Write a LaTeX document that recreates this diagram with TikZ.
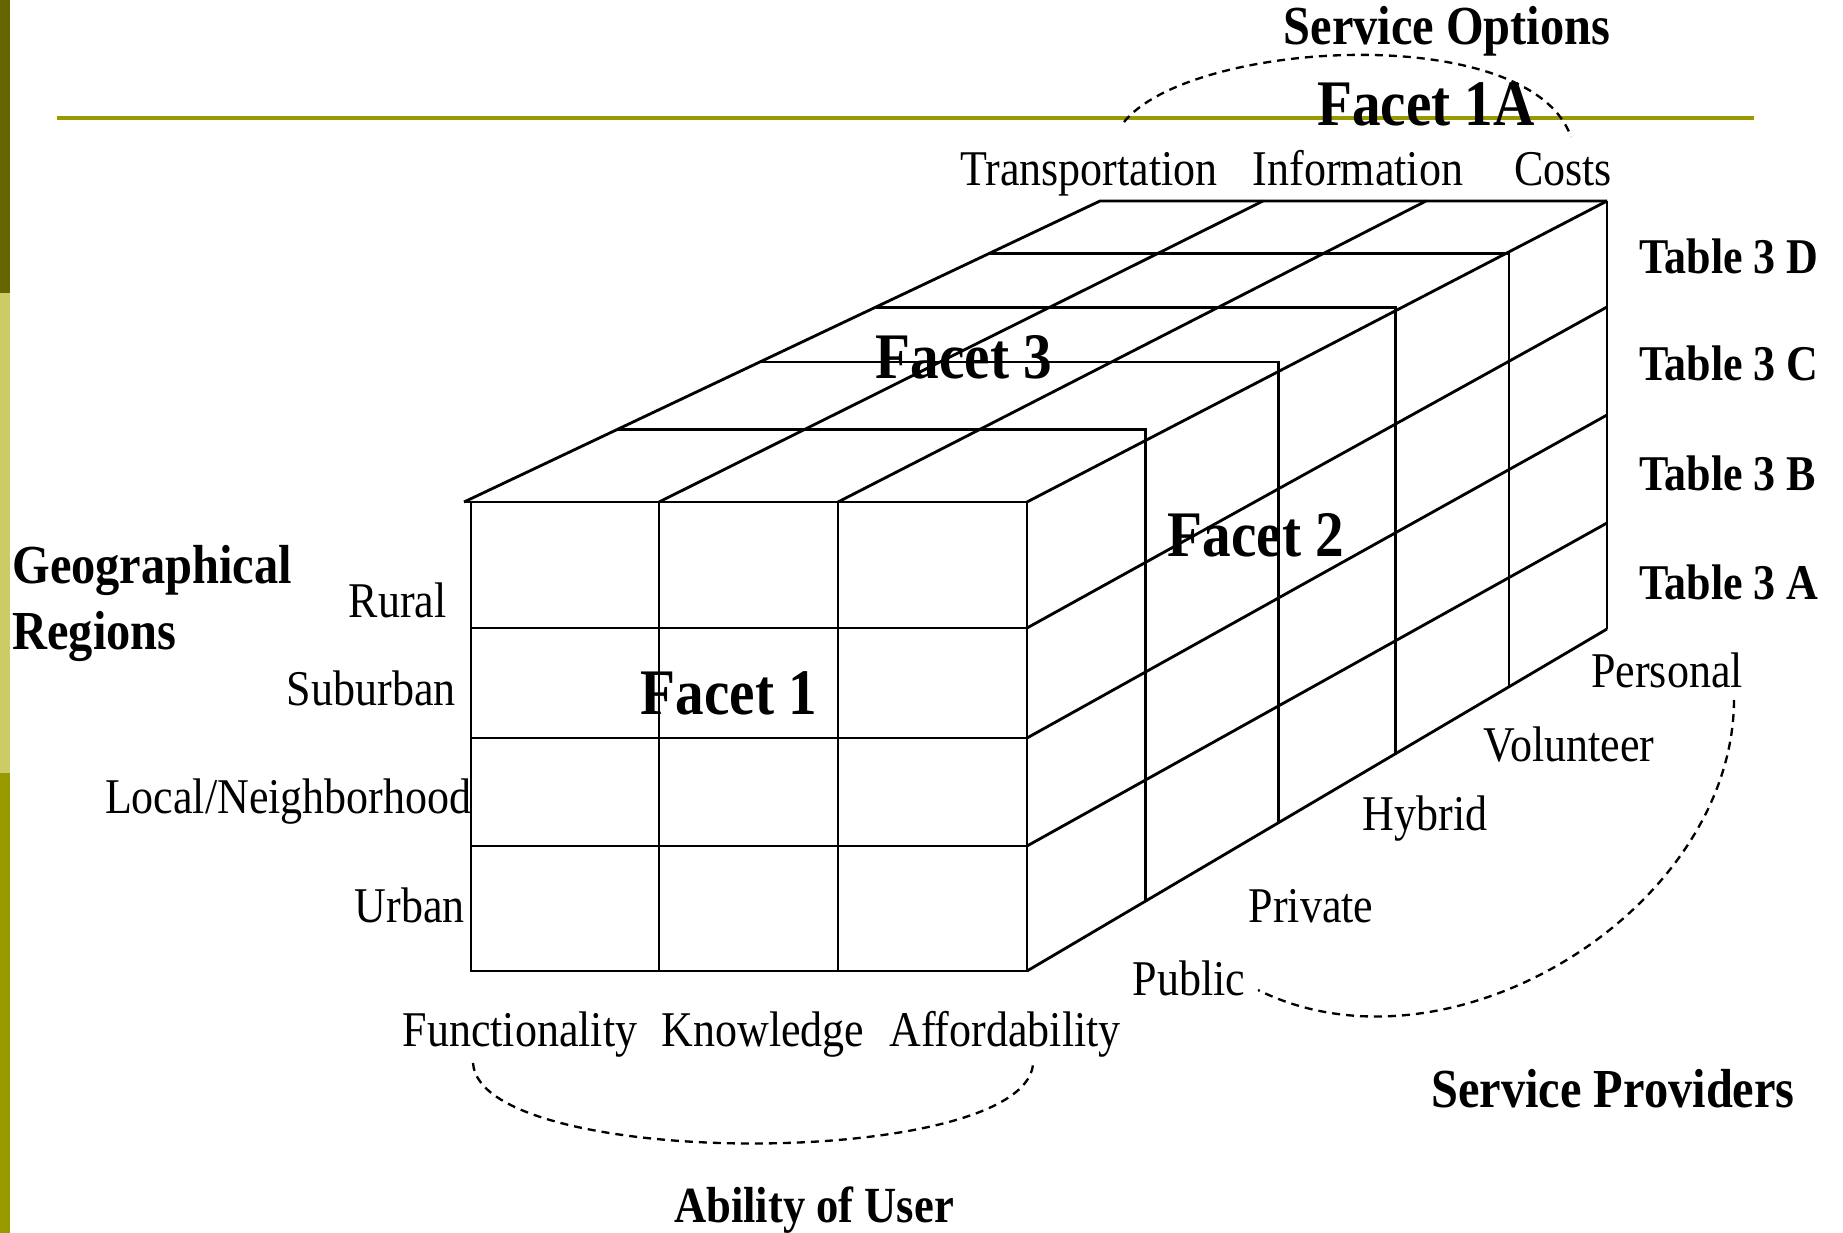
\documentclass[tikz,border=0pt]{standalone}
\usepackage{fontspec}
\setmainfont{Liberation Serif}[FakeStretch=0.88]
\definecolor{bardark}{HTML}{666600}
\definecolor{barlight}{HTML}{CCCC66}
\definecolor{barolive}{HTML}{999900}
\begin{document}
\begin{tikzpicture}[x=0.3pt,y=-0.3pt,line width=0.85pt,
    lbl/.style={font=\fontsize{15}{18}\selectfont,anchor=base},
    head/.style={font=\bfseries\fontsize{16.5}{20}\selectfont,anchor=base},
    tbl/.style={font=\bfseries\fontsize{15}{18}\selectfont,anchor=base west},
    facet/.style={font=\bfseries\fontsize{19.5}{23}\selectfont,anchor=base},
    arcline/.style={dash pattern=on 2.4pt off 1.8pt,line width=0.7pt}]
      \tikzstyle{every node}+=[inner sep=0pt]
      \useasboundingbox (0,0) rectangle (1843,1233);
      % slide decoration
      \fill [barolive] (0,773) rectangle (10,1233);
      \fill [barlight] (0,293) rectangle (10,773);
      \fill [bardark] (0,0) rectangle (10,293);
      \draw [barolive,line width=1.2pt] (57,118) -- (1754,118);
      % front face
      \draw (471,502) rectangle (1027,971);
      \foreach \x in {659,838} \draw (\x,502) -- (\x,971);
      \foreach \y in {628,738,846} \draw (471,\y) -- (1027,\y);
      % top face
      \draw (464,502) -- (1027,502);
      \draw (464,502) -- (1100,201) -- (1607,201);
      \draw (659,502) -- (1263,201);
      \draw (838,502) -- (1426,201);
      \draw (1027,502) -- (1607,201);
      % depth slices: top line, then down the right face
      \foreach \lv/\cv in {.24/.205,.465/.433,.647/.636,.826/.831}
        \draw ({464+636*\lv},{502-301*\lv}) -- ({1027+580*\cv},{502-301*\lv})
          -- ({1027+580*\cv},{971-342*\cv});
      % right face
      \draw (1607,201) -- (1607,629);
      \draw (1027,971) -- (1607,629);
      \draw (1027,628) -- (1607,307);
      \draw (1027,738) -- (1607,415);
      \draw (1027,846) -- (1607,523);
      % dashed groupings
      \draw [arcline] (1124,122) .. controls (1190,40) and (1530,20) .. (1571,137);
      \draw [arcline] (473,1063) .. controls (480,1170) and (1020,1170) .. (1033,1065);
      \draw [arcline] (1734,700) .. controls (1733,910) and (1450,1085) .. (1258,990);
      % facets
      \node [facet] (facetA) at (1426,126) {Facet 1A};
      \node [facet] (facetI) at (729,714) {Facet 1};
      \node [facet] (facetII) at (1256,556) {Facet 2};
      \node [facet] (facetIII) at (964,379) {Facet 3};
      % headings
      \node [head] (options) at (1447,45) {Service Options};
      \node [head,anchor=base west] (geo) at (11,583) {Geographical};
      \node [head,anchor=base west] (regions) at (11,649) {Regions};
      \node [head] (providers) at (1613,1107) {Service Providers};
      \node [head,font=\bfseries\fontsize{15.2}{18}\selectfont] (ability) at (814,1222) {Ability of User};
      % service options
      \node [lbl] (transport) at (1089,186) {Transportation};
      \node [lbl] (info) at (1358,186) {Information};
      \node [lbl] (costs) at (1563,186) {Costs};
      % tables
      \node [tbl] (tabD) at (1638,274) {Table 3 D};
      \node [tbl] (tabC) at (1638,381) {Table 3 C};
      \node [tbl] (tabB) at (1638,491) {Table 3 B};
      \node [tbl] (tabA) at (1638,599) {Table 3 A};
      % regions
      \node [lbl,anchor=base east] (rural) at (448,617) {Rural};
      \node [lbl,anchor=base east] (suburban) at (457,705) {Suburban};
      \node [lbl,anchor=base east] (local) at (473,813) {Local/Neighborhood};
      \node [lbl,anchor=base east] (urban) at (466,922) {Urban};
      % ability of user
      \node [lbl] (func) at (520,1046) {Functionality};
      \node [lbl] (know) at (763,1046) {Knowledge};
      \node [lbl] (afford) at (1005,1046) {Affordability};
      % providers
      \node [lbl] (personal) at (1667,687) {Personal};
      \node [lbl] (volunteer) at (1569,761) {Volunteer};
      \node [lbl] (hybrid) at (1425,830) {Hybrid};
      \node [lbl] (private) at (1311,922) {Private};
      \node [lbl] (public) at (1189,995) {Public};
    \end{tikzpicture}
\end{document}
